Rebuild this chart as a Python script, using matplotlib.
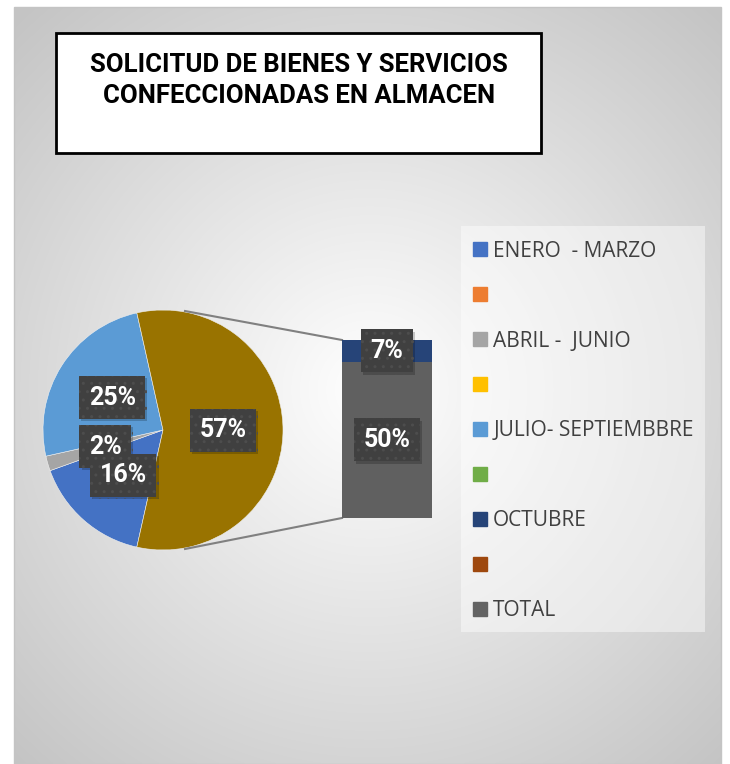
import numpy as np
import matplotlib
matplotlib.use('Agg')
import matplotlib.pyplot as plt
import matplotlib.patheffects as pe
from matplotlib.patches import Patch, Rectangle

# datos
titulo = ['SOLICITUD DE BIENES Y SERVICIOS', 'CONFECCIONADAS EN ALMACEN']

pie_labels = ['ENERO  - MARZO', 'ABRIL -  JUNIO', 'JULIO- SEPTIEMBBRE']
pie_values = [16, 2, 25]
pie_colors = ['#4472C4', '#A5A5A5', '#5B9BD5']

bar_labels = ['TOTAL', 'OCTUBRE']
bar_values = [50, 7]
bar_colors = ['#606060', '#264478']
otro_color = '#997300'

legend_labels = ['ENERO  - MARZO', '', 'ABRIL -  JUNIO', '', 'JULIO- SEPTIEMBBRE',
                 '', 'OCTUBRE', '', 'TOTAL']
legend_colors = ['#4472C4', '#ED7D31', '#A5A5A5', '#FFC000', '#5B9BD5',
                 '#70AD47', '#264478', '#9E480E', '#636363']

W, H = 730, 764


def yy(p):
    # pixel desde arriba -> coordenada del eje
    return H - p


fig = plt.figure(figsize=(W / 100, H / 100), dpi=100)
fig.patch.set_facecolor('white')
ax = fig.add_axes([0, 0, 1, 1])

# fondo con degradado radial
x0, x1, y0, y1 = 14, 721, 7, 764
gx, gy = np.meshgrid(np.linspace(x0, x1, 300), np.linspace(y0, y1, 300))
d = np.sqrt(((gx - 370) / 540) ** 2 + ((gy - 390) / 540) ** 2)
g = 1 - 0.23 * np.clip(d * 1.05, 0, 1)
ax.imshow(np.dstack([g, g, g]), extent=(x0, x1, yy(y1), yy(y0)), origin='upper',
          aspect='auto', zorder=0, interpolation='bilinear')
ax.add_patch(Rectangle((x0, yy(y1)), x1 - x0, y1 - y0, fill=False,
                       ec='#c4c4c4', lw=1, zorder=1))

# titulo
ax.add_patch(Rectangle((56, yy(153)), 485, 120, fc='white', ec='black', lw=2, zorder=2))
for linea, base in zip(titulo, [71.7, 103.3]):
    ax.text(299, yy(base), linea, ha='center', va='baseline', fontsize=18.5,
            fontweight='bold', family='Roboto', color='black', zorder=3)

# pie of bar
otro = sum(bar_values)
vals = pie_values + [otro]
cx, cy, r = 163, yy(430), 120
wedges, texts, autotexts = ax.pie(
    vals, colors=pie_colors + [otro_color], startangle=-1.8 * otro,
    counterclock=False, center=(cx, cy), radius=r,
    autopct=lambda p: f'{p:.0f}%', pctdistance=0.5,
    wedgeprops=dict(linewidth=0.4, edgecolor='#f0f0f0'), frame=True)

lbl_style = dict(color='white', fontsize=18, fontweight='bold', family='Roboto',
                 ha='center', va='center', zorder=6)
box = dict(boxstyle='square,pad=0.38', fc='#404040', ec='#4d4d4d', lw=0, hatch='..')


def poner_caja(t):
    t.set_bbox(box)
    t.get_bbox_patch().set_path_effects(
        [pe.SimplePatchShadow(offset=(1.5, -1.5), shadow_rgbFace='black', alpha=0.2),
         pe.Normal()])


for t in autotexts:
    t.set(**lbl_style)
    poner_caja(t)
autotexts[0].set_zorder(7)

# barra apilada
bar_top, bar_bot = 340, 518
s = (bar_bot - bar_top) / otro
base = yy(bar_bot)
for v, c in zip(bar_values, bar_colors):
    ax.bar(387, v * s, width=90, bottom=base, color=c, zorder=3)
    t = ax.text(387, base + v * s / 2, f'{v}%', **lbl_style)
    poner_caja(t)
    base += v * s

# lineas de conexion
a = np.deg2rad(79.5)
for sg, py in [(1, yy(bar_top)), (-1, yy(bar_bot))]:
    ax.plot([cx + (r + 1) * np.cos(a), 342], [cy + sg * (r + 1) * np.sin(a), py],
            color='#808080', lw=1.5, zorder=2)

# leyenda (fondo propio + entradas)
ax.add_patch(Rectangle((461, yy(632)), 244, 406, fc='white', alpha=0.45, ec='none', zorder=4))
handles = [Patch(color=c, label=l) for c, l in zip(legend_colors, legend_labels)]
leg = ax.legend(handles=handles, loc='upper left',
                bbox_to_anchor=(473 / W, 1 - 240.6 / H), bbox_transform=fig.transFigure,
                frameon=False, prop=dict(family='Open Sans', size=15),
                handlelength=0.67, handleheight=0.67, handletextpad=0.3,
                labelspacing=1.15, borderpad=0, borderaxespad=0, labelcolor='#404040')
leg.set_zorder(5)

ax.set_xlim(0, W)
ax.set_ylim(0, H)
ax.set_aspect('auto')
ax.axis('off')

fig.savefig('out.png', dpi=100)
